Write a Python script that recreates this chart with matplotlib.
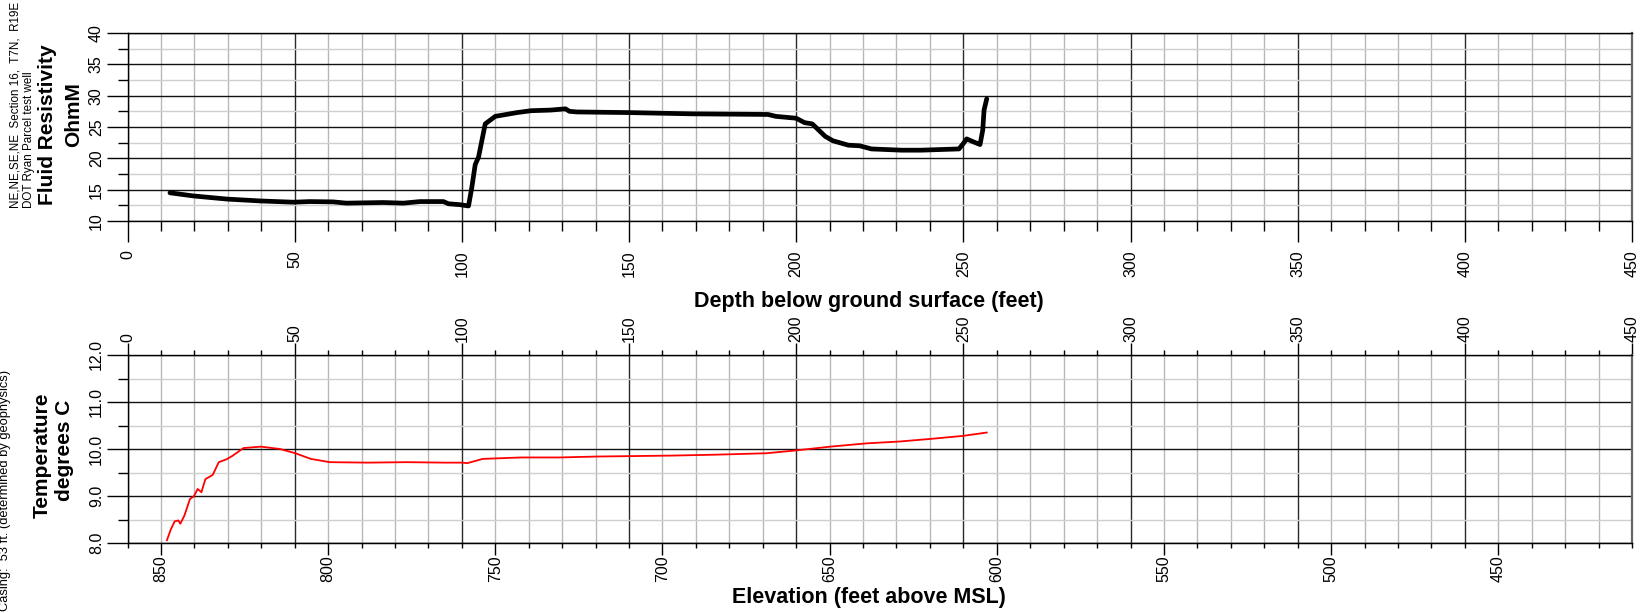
import matplotlib
matplotlib.use("Agg")
import matplotlib.pyplot as plt
from matplotlib.ticker import MultipleLocator, FixedLocator, FormatStrFormatter

plt.rcParams['font.family'] = ['Liberation Sans', 'DejaVu Sans']

# ---- Fluid resistivity log (depth in feet, resistivity in ohm-m) ----
depth_res = [12.7, 19.7, 29.7, 39.7, 49.6, 54.6, 61.5, 65.5, 76.5, 82.5, 87.5,
             94.5, 96.0, 99.5, 102.0, 103.0, 104.0, 105.0, 107.0, 110.0, 116.5,
             120.7, 126.5, 131.0, 132.2, 134.5, 150.0, 168.7, 191.6, 193.9, 200.0,
             202.5, 204.8, 208.7, 211.0, 215.6, 219.0, 222.5, 231.6, 237.3, 248.7,
             249.9, 251.0, 252.7, 255.0, 255.8, 256.2, 257.0]
resistivity = [14.5, 14.0, 13.5, 13.2, 13.0, 13.1, 13.05, 12.85, 12.95, 12.85, 13.1,
               13.1, 12.75, 12.6, 12.4, 15.4, 19.0, 20.2, 25.5, 26.7, 27.3,
               27.6, 27.7, 27.9, 27.5, 27.4, 27.3, 27.1, 27.0, 26.7, 26.4,
               25.7, 25.5, 23.5, 22.8, 22.1, 22.0, 21.5, 21.3, 21.3, 21.5,
               22.3, 23.1, 22.7, 22.2, 24.5, 27.7, 29.5]

# ---- Temperature log (depth in feet, degrees C) ----
depth_temp = [11.8, 12.9, 14.1, 15.2, 15.8, 17.0, 18.7, 19.8, 21.0, 22.1, 23.3,
              25.5, 27.3, 29.6, 31.3, 34.7, 39.9, 45.6, 50.2, 54.8, 60.5, 71.9,
              83.4, 94.8, 100.0, 101.7, 106.3, 117.8, 129.2, 140.7, 152.1, 163.0,
              176.3, 191.2, 200.0, 210.2, 221.1, 231.1, 241.0, 250.0, 257.0]
temperature = [8.06, 8.28, 8.46, 8.48, 8.41, 8.58, 8.94, 8.99, 9.15, 9.08, 9.36,
               9.45, 9.72, 9.78, 9.85, 10.02, 10.05, 10.0, 9.91, 9.79, 9.72, 9.71,
               9.72, 9.71, 9.71, 9.70, 9.79, 9.82, 9.82, 9.84, 9.85, 9.86,
               9.88, 9.91, 9.97, 10.05, 10.12, 10.16, 10.22, 10.28, 10.35]

# Axis tick values
depth_major = [0, 50, 100, 150, 200, 250, 300, 350, 400, 450]
res_major = [10, 15, 20, 25, 30, 35, 40]
temp_major = [8.0, 9.0, 10.0, 11.0, 12.0]
elev_major = [850, 800, 750, 700, 650, 600, 550, 500, 450]
GROUND_ELEV = 860  # land-surface elevation, feet above MSL

W, H = 1652, 613
TICK_FS = 11.5
fig = plt.figure(figsize=(W / 100, H / 100), dpi=100)


def px_rect(x0, y0, x1, y1):
    return [x0 / W, 1 - y1 / H, (x1 - x0) / W, (y1 - y0) / H]


def style_grid(ax):
    ax.set_axisbelow(True)
    ax.xaxis.grid(True, which='major', color='#2a2a2a', lw=1.0)
    ax.xaxis.grid(True, which='minor', color='#b8b8b8', lw=1.0)
    ax.yaxis.grid(True, which='major', color='#111111', lw=1.0)
    ax.yaxis.grid(True, which='minor', color='#cfcfcf', lw=1.0)
    for s in ['left', 'bottom', 'top']:
        ax.spines[s].set_color('black')
        ax.spines[s].set_linewidth(1.0)
    ax.spines['right'].set_color('#666666')
    ax.spines['right'].set_linewidth(1.6)


# ---------------- Top panel: fluid resistivity ----------------
ax1 = fig.add_axes(px_rect(127.5, 33, 1632, 221))
ax1.plot(depth_res, resistivity, color='black', lw=3.4, solid_capstyle='round',
         solid_joinstyle='round')
ax1.set_xlim(0, 450)
ax1.set_ylim(10, 40)
ax1.xaxis.set_major_locator(FixedLocator(depth_major))
ax1.xaxis.set_minor_locator(MultipleLocator(10))
ax1.yaxis.set_major_locator(FixedLocator(res_major))
ax1.yaxis.set_minor_locator(MultipleLocator(2.5))
style_grid(ax1)
ax1.tick_params(axis='both', which='major', direction='out', length=15, width=1,
                color='black', labelsize=TICK_FS)
ax1.tick_params(axis='both', which='minor', direction='out', length=7.5, width=1,
                color='black')
ax1.tick_params(axis='x', which='major', pad=6, labelrotation=90)
ax1.tick_params(axis='y', which='major', pad=2)
for lab in ax1.get_yticklabels():
    lab.set_rotation(90)
    lab.set_va('center')

# ---------------- Bottom panel: temperature ----------------
ax2 = fig.add_axes(px_rect(127.5, 355, 1632, 543))
ax2.plot(depth_temp, temperature, color='#ff0000', lw=1.3)
ax2.set_xlim(0, 450)
ax2.set_ylim(8, 12)
ax2.xaxis.set_ticks_position('top')
ax2.xaxis.set_label_position('top')
ax2.xaxis.set_major_locator(FixedLocator(depth_major))
ax2.xaxis.set_minor_locator(MultipleLocator(10))
ax2.yaxis.set_major_locator(FixedLocator(temp_major))
ax2.yaxis.set_minor_locator(MultipleLocator(0.5))
ax2.yaxis.set_major_formatter(FormatStrFormatter('%.1f'))
style_grid(ax2)
ax2.tick_params(axis='y', which='major', direction='out', length=15, width=1,
                color='black', labelsize=TICK_FS, pad=2)
ax2.tick_params(axis='y', which='minor', direction='out', length=7.5, width=1,
                color='black')
ax2.tick_params(axis='x', which='major', direction='out', length=8.6, width=1,
                color='black', labelsize=TICK_FS, pad=0.5, labelrotation=90)
ax2.tick_params(axis='x', which='minor', direction='out', length=3.6, width=1,
                color='black')
for lab in ax2.get_yticklabels():
    lab.set_rotation(90)
    lab.set_va('center')

# Elevation scale along the bottom edge
elev = ax2.secondary_xaxis('bottom',
                           functions=(lambda d: GROUND_ELEV - d,
                                      lambda e: GROUND_ELEV - e))
elev.xaxis.set_major_locator(FixedLocator(elev_major))
elev.xaxis.set_minor_locator(MultipleLocator(10))
elev.tick_params(axis='x', which='major', direction='out', length=8.6, width=1,
                 color='black', labelsize=TICK_FS, pad=0, labelrotation=90)
elev.tick_params(axis='x', which='minor', direction='out', length=3.6, width=1,
                 color='black')
elev.spines['bottom'].set_color('black')

# ---------------- Labels and annotations ----------------
def ftext(x, y, s, **kw):
    fig.text(x / W, 1 - y / H, s, **kw)


bold = dict(fontsize=15, fontweight='bold', rotation=90, ha='center', va='center')
ftext(869, 302, 'Depth below ground surface (feet)', fontsize=15.5,
      fontweight='bold', ha='center', va='center')
ftext(869, 598, 'Elevation (feet above MSL)', fontsize=15.5,
      fontweight='bold', ha='center', va='center')
ftext(48, 125, 'Fluid Resistivity', **bold)
ftext(74, 115, 'OhmM', **bold)
ftext(42, 455, 'Temperature', **bold)
ftext(64, 450, 'degrees C', **bold)

small = dict(fontsize=8.4, rotation=90, ha='center', va='bottom')
ftext(16, 208, 'NE,NE,SE,NE  Section 16,  T7N,  R19E', **small)
ftext(29, 208, 'DOT Ryan Parcel test well', **small)
ftext(5, 611, 'Casing:  53 ft. (determined by geophysics)', fontsize=9.3,
      rotation=90, ha='center', va='bottom')

fig.savefig('out.png', dpi=100)
